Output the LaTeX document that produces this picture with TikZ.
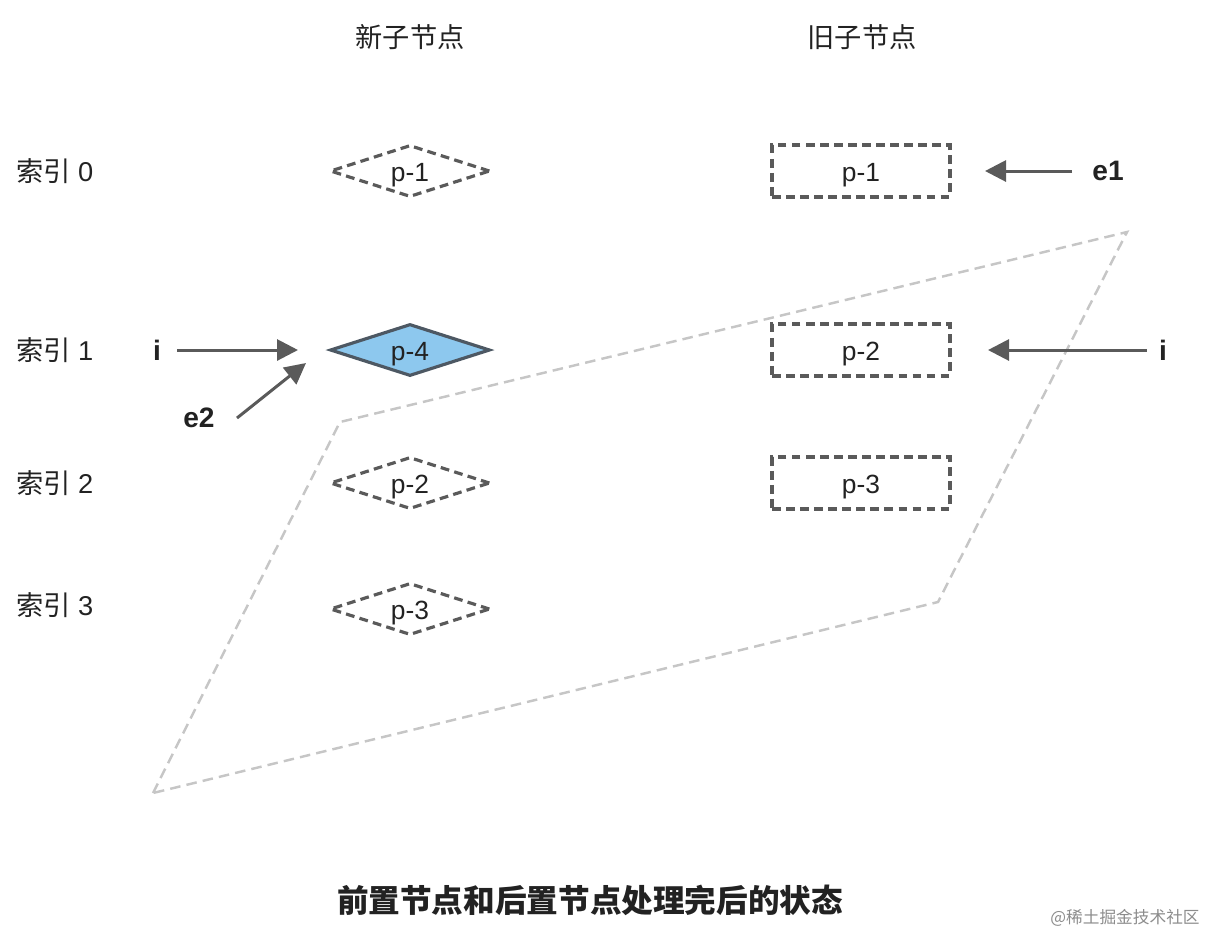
\documentclass[tikz,border=0pt]{standalone}
\usepackage{fontspec}
\setmainfont{Liberation Sans}
\newfontfamily\cjk{Noto Sans CJK SC}
\usepackage{tikz}
\usetikzlibrary{arrows.meta, positioning, shapes.geometric}
\definecolor{traco}{HTML}{5A5A5A}
\definecolor{azul}{HTML}{8DC8EE}
\definecolor{bordaazul}{HTML}{4D5863}
\definecolor{cinza}{HTML}{C6C6C6}
\definecolor{texto}{HTML}{222222}

\begin{document}
\begin{tikzpicture}[
        x=0.02cm, y=-0.02cm,
        font=\fontsize{15}{17}\selectfont, text=texto,
        losango/.style={diamond, draw=traco, line width=1.8pt, dash pattern=on 5pt off 3pt, aspect=3, inner sep=0pt, text height=12pt, text depth=0pt, minimum width=3.2cm, minimum height=1.04cm},
        atual/.style={losango, solid, fill=azul, draw=bordaazul},
        caixa/.style={draw=traco, line width=1.8pt, dash pattern=on 5pt off 3pt, text height=12pt, text depth=0pt, minimum width=3.56cm, minimum height=1.04cm, inner sep=0pt},
        seta/.style={-{Triangle[length=0.42cm, width=0.42cm]}, line width=1.7pt, draw=traco},
        rotulo/.style={font=\fontsize{15.5}{17}\selectfont},
        ponteiro/.style={font=\fontsize{16}{18}\selectfont\bfseries}
    ]
        \useasboundingbox (0,0) rectangle (1212,941);

        \node[rotulo] (novos) at (410,37) {\cjk 新子节点};
        \node[rotulo] (antigos) at (862,37) {\cjk 旧子节点};

        \node[rotulo, anchor=west] (idx0) at (10,171) {{\cjk 索引} 0};
        \node[rotulo, anchor=west] (idx1) at (10,350) {{\cjk 索引} 1};
        \node[rotulo, anchor=west] (idx2) at (10,483) {{\cjk 索引} 2};
        \node[rotulo, anchor=west] (idx3) at (10,605) {{\cjk 索引} 3};

        \node[losango] (n1) at (410,171) {p-1};
        \node[atual] (n4) at (410,350) {p-4};
        \node[losango] (n2) at (410,483) {p-2};
        \node[losango] (n3) at (410,609) {p-3};

        \node[caixa] (o1) at (861,171) {p-1};
        \node[caixa] (o2) at (861,350) {p-2};
        \node[caixa] (o3) at (861,483) {p-3};

        % faixa tracejada
        \draw[cinza, line width=1.4pt, dash pattern=on 6pt off 3.5pt] (153,793) -- (340,422) -- (1127,232) -- (938,602) -- cycle;

        % ponteiros
        \node[ponteiro] (e1) at (1108,171) {e1};
        \node[ponteiro] (iv) at (1163,350) {i};
        \node[ponteiro] (in) at (157,350) {i};
        \node[ponteiro] (e2) at (199,418) {e2};
        \coordinate (e1alvo) at (985,171);
        \coordinate (ivalvo) at (988,350);
        \coordinate (inalvo) at (298,350);
        \coordinate (e2alvo) at (306,363);

        \draw[seta] (e1.west) ++(-14,0) -- (e1alvo);
        \draw[seta] (iv.west) ++(-6,0) -- (ivalvo);
        \draw[seta] (in.east) ++(10,0) -- (inalvo);
        \draw[seta] (237,418) -- (e2alvo);

        \node[font=\fontsize{18}{20}\selectfont\cjk\bfseries] (titulo) at (590,900) {前置节点和后置节点处理完后的状态};
        \node[font=\fontsize{9.5}{11}\selectfont\cjk, text=black!45] (marca) at (1125,918) {@稀土掘金技术社区};
    \end{tikzpicture}
\end{document}
